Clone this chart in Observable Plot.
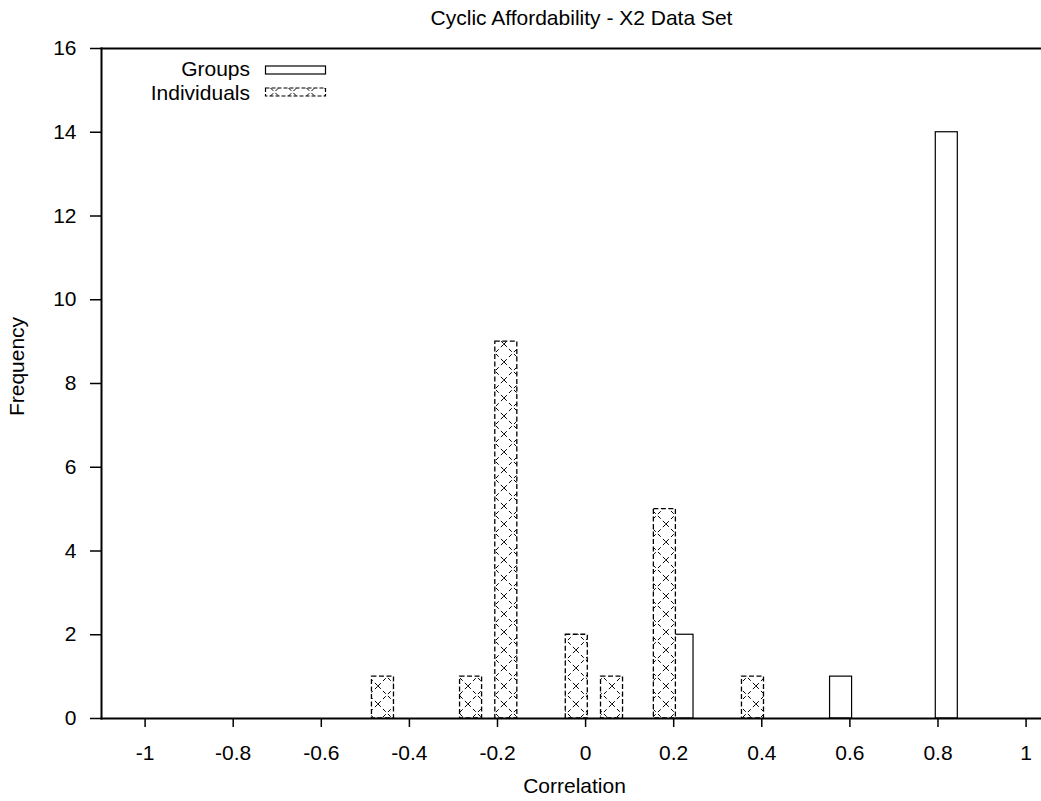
<!DOCTYPE html>
<html>
<head>
<meta charset="utf-8">
<script src="https://cdn.jsdelivr.net/npm/d3@7"></script>
<script src="https://cdn.jsdelivr.net/npm/@observablehq/plot@0.6"></script>
<style>
  html, body { margin: 0; padding: 0; background: #fff; }
  body { width: 1041px; height: 801px; position: relative; font-family: "Liberation Sans", Arial, sans-serif; color: #000; }
  #title { position: relative; height: 38px; }
  #title span { position: absolute; left: 581.5px; top: 6px; transform: translateX(-50%); font-size: 21px; white-space: nowrap; }
  #legend { position: absolute; left: 0; top: 0; width: 400px; height: 110px; pointer-events: none; }
  #legend .lab { position: absolute; left: 50px; width: 200px; text-align: right; font-size: 21px; white-space: nowrap; }
  #legend svg { position: absolute; left: 264px; }
</style>
</head>
<body>
<div id="title"><span>Cyclic Affordability - X2 Data Set</span></div>
<div id="chart"></div>
<div id="legend">
  <div class="lab" style="top:57px">Groups</div>
  <svg style="top:64px" width="64" height="12"><rect x="1.5" y="2" width="60" height="8" fill="#fff" stroke="#000" stroke-width="1.2"/></svg>
  <div class="lab" style="top:81px">Individuals</div>
  <svg style="top:86px" width="64" height="12">
    <defs>
      <pattern id="xhatchLeg" patternUnits="userSpaceOnUse" width="18" height="18" x="1.5" y="-3">
        <rect width="18" height="18" fill="#fff"/>
        <path d="M0,0L18,18M0,18L18,0" stroke="#000" stroke-width="1" stroke-dasharray="4,3" fill="none"/>
      </pattern>
    </defs>
    <rect x="1.5" y="2" width="60" height="8" fill="url(#xhatchLeg)" stroke="#000" stroke-width="1.2" stroke-dasharray="4,2"/>
  </svg>
</div>
<script>
// ---- data ----
const individualsCorrelation = [-0.46, -0.26, -0.18, -0.02, 0.06, 0.18, 0.38];
const individualsFrequency   = [1, 1, 9, 2, 1, 5, 1];
const groupsCorrelation      = [0.22, 0.58, 0.82];
const groupsFrequency        = [2, 1, 14];
const xTickValues = [-1, -0.8, -0.6, -0.4, -0.2, 0, 0.2, 0.4, 0.6, 0.8, 1];
const yTickValues = [0, 2, 4, 6, 8, 10, 12, 14, 16];
const xLabel = "Correlation";
const yLabel = "Frequency";

const binWidth = 0.05;
const groups = groupsCorrelation.map((c, i) => ({c, n: groupsFrequency[i]}));
const individuals = individualsCorrelation.map((c, i) => ({c, n: individualsFrequency[i]}));

const chart = Plot.plot({
  width: 1041,
  height: 763,
  marginTop: 10,
  marginBottom: 83,
  marginLeft: 101,
  marginRight: 0,
  style: {fontFamily: "Liberation Sans, Arial, sans-serif", fontSize: "21px", background: "#fff", color: "#000", overflow: "visible"},
  x: {domain: [-1.099, 1.035]},
  y: {domain: [0, 16]},
  marks: [
    Plot.rect(groups, {x1: d => d.c - binWidth / 2, x2: d => d.c + binWidth / 2, y1: 0, y2: "n", fill: "#fff", stroke: "#000", strokeWidth: 1.2}),
    Plot.rect(individuals, {x1: d => d.c - binWidth / 2, x2: d => d.c + binWidth / 2, y1: 0, y2: "n", fill: "url(#xhatch)", stroke: "#000", strokeWidth: 1.3, strokeDasharray: "5,2.5"}),
    Plot.frame({anchor: "left", stroke: "#000", strokeWidth: 2}),
    Plot.frame({anchor: "top", stroke: "#000", strokeWidth: 2}),
    Plot.frame({anchor: "bottom", stroke: "#000", strokeWidth: 2}),
    Plot.axisX({ticks: xTickValues, tickFormat: d => String(d), tickSize: 9, tickPadding: 18, strokeWidth: 1.5, label: null}),
    Plot.axisY({ticks: yTickValues, tickFormat: d => String(d), tickSize: 11, tickPadding: 14, strokeWidth: 1.5, label: null}),
    Plot.text([xLabel], {frameAnchor: "bottom", lineAnchor: "top", dy: 60, dx: 3, fontSize: 21}),
    Plot.text([yLabel], {frameAnchor: "left", textAnchor: "middle", rotate: -90, dx: -84, dy: -17, fontSize: 21})
  ]
});

// hatch pattern definition for the Individuals bars
const defs = d3.select(chart).insert("defs", ":first-child");
const pat = defs.append("pattern").attr("id", "xhatch").attr("patternUnits", "userSpaceOnUse")
  .attr("width", 18).attr("height", 18);
pat.append("rect").attr("width", 18).attr("height", 18).attr("fill", "#fff");
pat.append("path").attr("d", "M0,0L18,18M0,18L18,0").attr("stroke", "#000").attr("stroke-width", 1)
  .attr("stroke-dasharray", "4,3").attr("fill", "none");

document.getElementById("chart").appendChild(chart);
</script>
</body>
</html>
